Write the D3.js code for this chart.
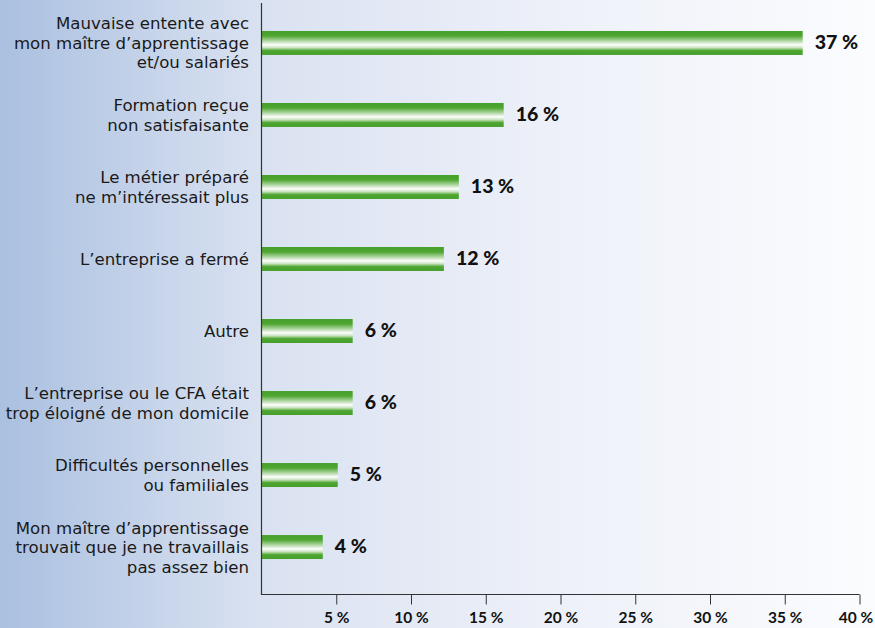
<!DOCTYPE html>
<html><head><meta charset="utf-8">
<script src="https://cdn.jsdelivr.net/npm/d3@7"></script>
<style>html,body{margin:0;padding:0;overflow:hidden;}</style>
</head><body>
<script>
const categories = [
  ["Mauvaise entente avec","mon maître d’apprentissage","et/ou salariés"],
  ["Formation reçue","non satisfaisante"],
  ["Le métier préparé","ne m’intéressait plus"],
  ["L’entreprise a fermé"],
  ["Autre"],
  ["L’entreprise ou le CFA était","trop éloigné de mon domicile"],
  ["Difficultés personnelles","ou familiales"],
  ["Mon maître d’apprentissage","trouvait que je ne travaillais","pas assez bien"]
];
const values = [36.2, 16.2, 13.2, 12.2, 6.1, 6.1, 5.1, 4.1];
const valueLabels = ["37 %","16 %","13 %","12 %","6 %","6 %","5 %","4 %"];
const tickValues = [5,10,15,20,25,30,35,40];
const tickLabels = ["5 %","10 %","15 %","20 %","25 %","30 %","35 %","40 %"];

const W = 875, H = 628;
const svg = d3.select("body").append("svg").attr("width", W).attr("height", H);
const defs = svg.append("defs");
const bg = defs.append("linearGradient").attr("id","bg").attr("x1","0").attr("x2","1").attr("y1","0").attr("y2","0");
[[0,"#aac0e0"],[0.3,"#dae2f1"],[0.65,"#eef1f9"],[1,"#fbfcfe"]].forEach(([o,c])=>bg.append("stop").attr("offset",o).attr("stop-color",c));
const bar = defs.append("linearGradient").attr("id","bar").attr("x1","0").attr("x2","0").attr("y1","0").attr("y2","1");
[[0,"#46a02c"],[0.2,"#4ea631"],[0.4,"#a9d39a"],[0.58,"#ffffff"],[0.7,"#c6e2bb"],[0.82,"#4ea631"],[1,"#46a02c"]].forEach(([o,c])=>bar.append("stop").attr("offset",o).attr("stop-color",c));

svg.append("rect").attr("width",W).attr("height",H).attr("fill","url(#bg)");

const x0 = 261.5, x1 = 859.5, axisY = 594.5;
const x = d3.scaleLinear().domain([0,40]).range([x0, x1]);
const y = d3.scaleBand().domain(d3.range(categories.length)).range([7, 583]).paddingInner(0.667).paddingOuter(0.333);

svg.selectAll("rect.bar").data(values).join("rect").attr("class","bar")
  .attr("x", x(0)).attr("y", (d,i)=>y(i)).attr("width", d=>x(d)-x(0)).attr("height", y.bandwidth())
  .attr("fill","url(#bar)");

svg.selectAll("text.val").data(valueLabels).join("text").attr("class","val")
  .attr("x",(d,i)=>x(values[i])+12).attr("y",(d,i)=>y(i)+y.bandwidth()/2+6)
  .attr("font-family","Lato").attr("font-weight",900).attr("font-size",19.5).attr("fill","#111")
  .text(d=>d);

const lab = svg.selectAll("text.cat").data(categories).join("text").attr("class","cat")
  .attr("text-anchor","end").attr("font-family","'DejaVu Sans'").attr("font-size",16.6).attr("fill","#1a1a1a");
lab.each(function(lines,i){
  const cy = y(i)+y.bandwidth()/2;
  const lh = 19.5;
  d3.select(this).selectAll("tspan").data(lines).join("tspan")
    .attr("x",249).attr("y",(l,j)=>cy + (j-(lines.length-1)/2)*lh + 6).text(l=>l);
});

const axis = d3.axisBottom(x).tickValues(tickValues).tickSize(10).tickFormat((d,i)=>tickLabels[i]).tickSizeOuter(0);
const g = svg.append("g").attr("transform",`translate(0,${axisY})`).call(axis);
g.select(".domain").remove();
g.selectAll(".tick line").attr("stroke","#333");
g.selectAll(".tick text").attr("font-family","Lato").attr("font-weight",700).attr("font-size",15.5).attr("fill","#111")
  .attr("y",0).attr("dy",null).attr("transform","translate(0,28.5)")
  .attr("dx",(d,i)=> i===tickValues.length-1 ? -4 : 0);

svg.append("path").attr("d",`M${x0},3V${axisY}H${x1}`).attr("fill","none").attr("stroke","#333").attr("stroke-width",1.2);
</script>
</body></html>
